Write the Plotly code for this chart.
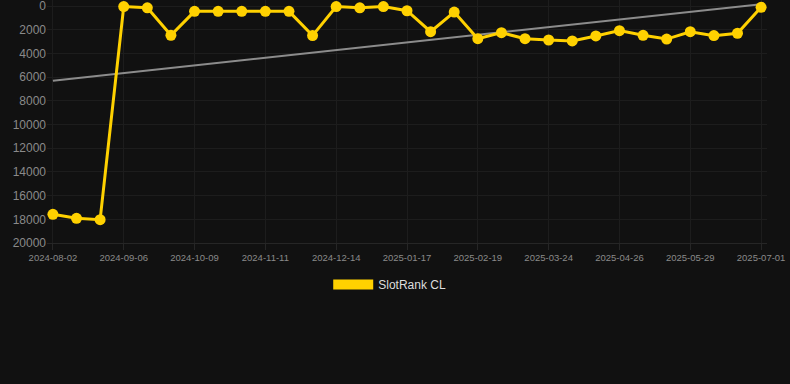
import plotly.graph_objects as go

dates = [
    "2024-08-02", "2024-08-14", "2024-08-25",
    "2024-09-06", "2024-09-17", "2024-09-28",
    "2024-10-09", "2024-10-20", "2024-10-31",
    "2024-11-11", "2024-11-22", "2024-12-03",
    "2024-12-14", "2024-12-25", "2025-01-05",
    "2025-01-17", "2025-01-28", "2025-02-08",
    "2025-02-19", "2025-03-02", "2025-03-13",
    "2025-03-24", "2025-04-04", "2025-04-15",
    "2025-04-26", "2025-05-07", "2025-05-18",
    "2025-05-29", "2025-06-09", "2025-06-20",
    "2025-07-01",
]
rank = [
    17580, 17920, 18030,
    50, 150, 2475,
    450, 450, 450,
    450, 450, 2500,
    50, 150, 50,
    400, 2170, 510,
    2760, 2250, 2760,
    2870, 2950, 2530,
    2080, 2475, 2790,
    2170, 2500, 2300,
    110,
]
trend_dates = ["2024-08-02", "2025-07-01"]
trend_values = [6300, -150]
tick_labels = dates[::3]
y_ticks = [0, 2000, 4000, 6000, 8000, 10000, 12000, 14000, 16000, 18000, 20000]

GOLD = "#FFD100"

fig = go.Figure()
fig.add_trace(go.Scatter(
    x=trend_dates, y=trend_values, mode="lines",
    line=dict(color="#8c8c8c", width=2), showlegend=False, hoverinfo="skip",
))
fig.add_trace(go.Scatter(
    x=dates, y=rank, mode="lines+markers",
    line=dict(color=GOLD, width=3),
    marker=dict(color=GOLD, size=11),
    showlegend=False, cliponaxis=False,
))
fig.add_trace(go.Scatter(
    x=[None], y=[None], mode="lines", name="SlotRank CL",
    line=dict(color=GOLD, width=12),
))

fig.update_layout(
    width=790, height=384,
    paper_bgcolor="#111111", plot_bgcolor="#111111",
    margin=dict(l=47, r=23, t=0, b=141),
    font=dict(family="Liberation Sans, Arial, sans-serif", color="#8a8a8a"),
    xaxis=dict(
        type="category", categoryorder="array", categoryarray=dates,
        range=[-0.25, 30.25],
        tickmode="array", tickvals=tick_labels, ticktext=tick_labels,
        tickfont=dict(size=9.5, color="#8a8a8a"),
        showgrid=True, gridcolor="#1d1d1d", gridwidth=1,
        ticks="outside", ticklen=6, tickcolor="#262626",
        zeroline=False, showline=True, linecolor="#262626", linewidth=1,
        ticklabeloverflow="allow",
    ),
    yaxis=dict(
        range=[20000, -506],
        tickmode="array", tickvals=y_ticks, tickformat="d",
        tickfont=dict(size=12, color="#8a8a8a"),
        showgrid=True, gridcolor="#1d1d1d", gridwidth=1,
        zeroline=False, showline=False, ticks="", ticklabeloverflow="allow",
    ),
    legend=dict(
        orientation="h", x=0.476, xanchor="center", y=-0.111, yanchor="top",
        font=dict(size=12, color="#dddddd"), itemwidth=40,
        bgcolor="rgba(0,0,0,0)",
    ),
    showlegend=True,
)

fig.write_html(
    "out.html",
    config={"displayModeBar": False},
    post_script="document.body.style.margin='0';document.body.style.background='#111111';",
)
